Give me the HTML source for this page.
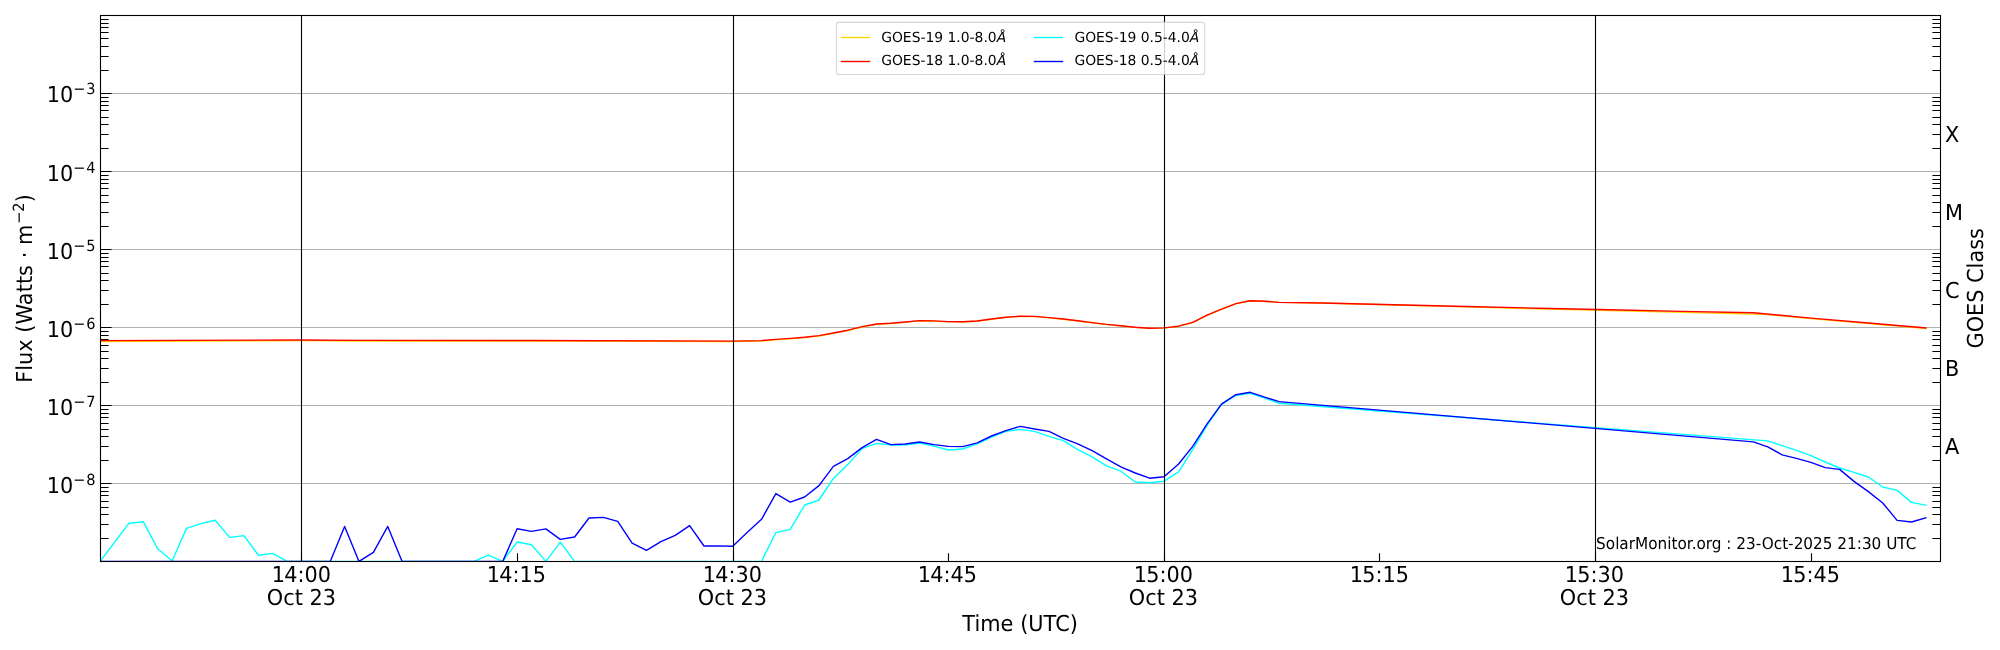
<!DOCTYPE html>
<html lang="en"><head><meta charset="utf-8"><title>GOES X-ray Flux</title>
<style>html,body{margin:0;padding:0;background:#fff}body{width:2000px;height:650px;overflow:hidden}svg{display:block;will-change:transform}text{font-family:"DejaVu Sans","Liberation Sans",sans-serif;fill:#000}</style></head><body>
<svg width="2000" height="650" viewBox="0 0 2000 650" text-rendering="geometricPrecision">
<rect width="2000" height="650" fill="#fff"/>
<defs><clipPath id="ax"><rect x="100.06" y="14.97" width="1840.00" height="546.42"/></clipPath></defs>
<g stroke="#b0b0b0" stroke-width="1.1" fill="none"><path d="M100.5 483.5H1940.5"/><path d="M100.5 405.5H1940.5"/><path d="M100.5 327.5H1940.5"/><path d="M100.5 249.5H1940.5"/><path d="M100.5 171.5H1940.5"/><path d="M100.5 93.5H1940.5"/></g>
<g clip-path="url(#ax)" fill="none" stroke-width="1.39" stroke-linejoin="round" stroke-linecap="square">
<polyline stroke="#ffd700" points="100.25,341.50 272.75,340.69 301.50,340.59 359.00,340.97 531.50,341.02 732.75,341.55 761.50,341.04 775.88,339.83 790.25,338.82 804.62,337.62 819.00,336.01 833.38,333.41 847.75,330.60 862.12,326.98 876.50,324.36 890.88,323.54 905.25,322.32 919.62,320.91 934.00,321.19 948.38,321.87 962.75,322.05 977.12,321.24 991.50,319.24 1005.88,317.43 1020.25,316.43 1034.62,316.62 1049.00,317.82 1063.38,319.21 1077.75,321.01 1092.12,322.80 1106.50,324.59 1120.88,325.99 1135.25,327.38 1149.62,328.38 1164.00,328.07 1178.38,326.37 1192.75,322.56 1207.12,315.36 1221.50,309.35 1235.88,303.68 1250.25,300.80 1264.62,301.20 1279.00,302.40 1322.12,302.95 1394.00,304.97 1465.88,306.93 1537.75,308.85 1609.62,310.67 1681.50,312.43 1753.38,314.05 1767.75,314.59 1810.88,318.60 1868.38,323.50 1925.88,328.50"/>
<polyline stroke="#ff0000" points="100.25,340.60 301.50,340.00 359.00,340.40 531.50,340.50 732.75,341.10 761.50,340.60 775.88,339.40 790.25,338.40 804.62,337.20 819.00,335.60 833.38,333.00 847.75,330.20 862.12,326.60 876.50,324.00 890.88,323.20 905.25,322.00 919.62,320.60 934.00,320.90 948.38,321.60 962.75,321.80 977.12,321.00 991.50,319.00 1005.88,317.20 1020.25,316.20 1034.62,316.40 1049.00,317.60 1063.38,319.00 1077.75,320.80 1092.12,322.60 1106.50,324.40 1120.88,325.80 1135.25,327.20 1149.62,328.20 1164.00,327.90 1178.38,326.20 1192.75,322.40 1207.12,315.20 1221.50,309.20 1235.88,303.60 1250.25,300.80 1264.62,301.20 1279.00,302.40 1322.12,302.95 1394.00,304.75 1465.88,306.50 1537.75,308.20 1609.62,309.80 1681.50,311.35 1753.38,312.75 1810.88,318.10 1868.38,323.00 1925.88,328.00"/>
<polyline stroke="#00ffff" points="100.25,561.39 129.00,523.20 143.38,521.80 157.75,548.80 172.12,561.00 186.50,528.40 200.88,523.60 215.25,520.20 229.62,537.40 244.00,535.60 258.38,555.20 272.75,553.40 287.12,561.39 474.00,561.39 488.38,555.20 502.75,561.39 517.12,542.00 531.50,544.80 545.88,561.39 560.25,542.20 574.62,561.39 761.50,561.39 775.88,532.60 790.25,529.40 804.62,505.00 819.00,500.00 833.38,478.40 847.75,464.60 862.12,448.60 876.50,443.40 890.88,445.00 905.25,445.00 919.62,443.00 934.00,446.10 948.38,450.00 962.75,449.00 977.12,443.80 991.50,437.20 1005.88,431.40 1020.25,429.40 1034.62,431.40 1049.00,436.40 1063.38,440.60 1077.75,449.60 1092.12,456.80 1106.50,465.80 1120.88,471.20 1135.25,482.00 1149.62,482.80 1164.00,481.20 1178.38,472.20 1192.75,449.60 1207.12,425.40 1221.50,404.40 1235.88,395.50 1250.25,393.40 1264.62,398.20 1279.00,403.30 1767.75,440.90 1782.12,445.60 1796.50,450.40 1810.88,455.60 1825.25,462.00 1839.62,468.00 1854.00,472.40 1868.38,477.00 1882.75,487.00 1897.12,490.40 1911.50,502.40 1925.88,505.20"/>
<polyline stroke="#0000ff" points="100.25,561.39 330.25,561.39 344.62,526.40 359.00,561.39 373.38,552.40 387.75,526.40 402.12,561.39 502.75,561.39 517.12,528.80 531.50,531.40 545.88,528.90 560.25,539.40 574.62,537.00 589.00,518.00 603.38,517.40 617.75,521.40 632.12,543.20 646.50,550.40 660.88,541.60 675.25,535.40 689.62,525.60 704.00,546.00 718.38,545.90 732.75,546.20 747.12,532.40 761.50,519.30 775.88,493.60 790.25,502.20 804.62,497.00 819.00,485.60 833.38,466.40 847.75,458.60 862.12,447.60 876.50,439.40 890.88,444.60 905.25,444.00 919.62,442.00 934.00,444.60 948.38,446.40 962.75,446.60 977.12,442.80 991.50,436.00 1005.88,430.60 1020.25,426.40 1034.62,429.00 1049.00,431.40 1063.38,438.40 1077.75,443.80 1092.12,450.60 1106.50,458.80 1120.88,466.80 1135.25,473.00 1149.62,478.20 1164.00,476.80 1178.38,464.20 1192.75,446.40 1207.12,423.80 1221.50,404.10 1235.88,394.70 1250.25,392.30 1264.62,397.10 1279.00,401.60 1753.38,441.90 1767.75,446.90 1782.12,454.80 1796.50,458.40 1810.88,462.40 1825.25,467.60 1839.62,469.40 1854.00,481.40 1868.38,491.60 1882.75,503.00 1897.12,520.40 1911.50,522.00 1925.88,517.80"/>
</g>
<g stroke="#000" stroke-width="1.1" fill="none"><path d="M301.5 15.5V561.5"/><path d="M733.5 15.5V561.5"/><path d="M1164.5 15.5V561.5"/><path d="M1595.5 15.5V561.5"/></g>
<path stroke="#000" stroke-width="1.1" fill="none" d="M301.5 561.5v-8.3M517.5 561.5v-8.3M733.5 561.5v-8.3M948.5 561.5v-8.3M1164.5 561.5v-8.3M1379.5 561.5v-8.3M1595.5 561.5v-8.3M1811.5 561.5v-8.3M100.5 483.5h11.1M100.5 405.5h11.1M100.5 327.5h11.1M100.5 249.5h11.1M100.5 171.5h11.1M100.5 93.5h11.1M100.5 538.5h8.1M1940.5 538.5h-8.1M100.5 524.5h8.1M1940.5 524.5h-8.1M100.5 514.5h8.1M1940.5 514.5h-8.1M100.5 507.5h8.1M1940.5 507.5h-8.1M100.5 501.5h8.1M1940.5 501.5h-8.1M100.5 495.5h8.1M1940.5 495.5h-8.1M100.5 491.5h8.1M1940.5 491.5h-8.1M100.5 487.5h8.1M1940.5 487.5h-8.1M100.5 460.5h8.1M1940.5 460.5h-8.1M100.5 446.5h8.1M1940.5 446.5h-8.1M100.5 436.5h8.1M1940.5 436.5h-8.1M100.5 429.5h8.1M1940.5 429.5h-8.1M100.5 423.5h8.1M1940.5 423.5h-8.1M100.5 417.5h8.1M1940.5 417.5h-8.1M100.5 413.5h8.1M1940.5 413.5h-8.1M100.5 409.5h8.1M1940.5 409.5h-8.1M100.5 382.5h8.1M1940.5 382.5h-8.1M100.5 368.5h8.1M1940.5 368.5h-8.1M100.5 358.5h8.1M1940.5 358.5h-8.1M100.5 351.5h8.1M1940.5 351.5h-8.1M100.5 345.5h8.1M1940.5 345.5h-8.1M100.5 339.5h8.1M1940.5 339.5h-8.1M100.5 335.5h8.1M1940.5 335.5h-8.1M100.5 331.5h8.1M1940.5 331.5h-8.1M100.5 304.5h8.1M1940.5 304.5h-8.1M100.5 290.5h8.1M1940.5 290.5h-8.1M100.5 280.5h8.1M1940.5 280.5h-8.1M100.5 273.5h8.1M1940.5 273.5h-8.1M100.5 266.5h8.1M1940.5 266.5h-8.1M100.5 261.5h8.1M1940.5 261.5h-8.1M100.5 257.5h8.1M1940.5 257.5h-8.1M100.5 253.5h8.1M1940.5 253.5h-8.1M100.5 226.5h8.1M1940.5 226.5h-8.1M100.5 212.5h8.1M1940.5 212.5h-8.1M100.5 202.5h8.1M1940.5 202.5h-8.1M100.5 195.5h8.1M1940.5 195.5h-8.1M100.5 188.5h8.1M1940.5 188.5h-8.1M100.5 183.5h8.1M1940.5 183.5h-8.1M100.5 179.5h8.1M1940.5 179.5h-8.1M100.5 175.5h8.1M1940.5 175.5h-8.1M100.5 148.5h8.1M1940.5 148.5h-8.1M100.5 134.5h8.1M1940.5 134.5h-8.1M100.5 124.5h8.1M1940.5 124.5h-8.1M100.5 117.5h8.1M1940.5 117.5h-8.1M100.5 110.5h8.1M1940.5 110.5h-8.1M100.5 105.5h8.1M1940.5 105.5h-8.1M100.5 101.5h8.1M1940.5 101.5h-8.1M100.5 97.5h8.1M1940.5 97.5h-8.1M100.5 70.5h8.1M1940.5 70.5h-8.1M100.5 56.5h8.1M1940.5 56.5h-8.1M100.5 46.5h8.1M1940.5 46.5h-8.1M100.5 38.5h8.1M1940.5 38.5h-8.1M100.5 32.5h8.1M1940.5 32.5h-8.1M100.5 27.5h8.1M1940.5 27.5h-8.1M100.5 23.5h8.1M1940.5 23.5h-8.1M100.5 19.5h8.1M1940.5 19.5h-8.1"/>
<rect x="100.5" y="15.5" width="1840.0" height="546.0" fill="none" stroke="#000" stroke-width="1.1"/>
<text transform="translate(46.75,493.10) scale(1,1.055)" font-size="20.83">10<tspan dx="0.00" dy="-7.93" font-size="14.58">−<tspan dx="0.75">8</tspan></tspan></text>
<text transform="translate(46.75,415.10) scale(1,1.055)" font-size="20.83">10<tspan dx="0.00" dy="-7.93" font-size="14.58">−<tspan dx="0.75">7</tspan></tspan></text>
<text transform="translate(46.75,337.10) scale(1,1.055)" font-size="20.83">10<tspan dx="0.00" dy="-7.93" font-size="14.58">−<tspan dx="0.75">6</tspan></tspan></text>
<text transform="translate(46.75,259.10) scale(1,1.055)" font-size="20.83">10<tspan dx="0.00" dy="-7.93" font-size="14.58">−<tspan dx="0.75">5</tspan></tspan></text>
<text transform="translate(46.75,181.10) scale(1,1.055)" font-size="20.83">10<tspan dx="0.00" dy="-7.93" font-size="14.58">−<tspan dx="0.75">4</tspan></tspan></text>
<text transform="translate(46.75,102.00) scale(1,1.055)" font-size="20.83">10<tspan dx="0.00" dy="-7.93" font-size="14.58">−<tspan dx="0.75">3</tspan></tspan></text>
<text transform="translate(271.00,582.00) scale(1,1.055)" font-size="20.83"><tspan dx="0.8">1</tspan><tspan dx="-0.8">4:00</tspan></text>
<text transform="translate(266.80,605.00) scale(1,1.055)" font-size="20.83">Oct 23</text>
<text transform="translate(486.00,582.00) scale(1,1.055)" font-size="20.83"><tspan dx="0.8">1</tspan><tspan dx="-0.8">4:15</tspan></text>
<text transform="translate(702.00,582.00) scale(1,1.055)" font-size="20.83"><tspan dx="0.8">1</tspan><tspan dx="-0.8">4:30</tspan></text>
<text transform="translate(697.80,605.00) scale(1,1.055)" font-size="20.83">Oct 23</text>
<text transform="translate(917.00,582.00) scale(1,1.055)" font-size="20.83"><tspan dx="0.8">1</tspan><tspan dx="-0.8">4:45</tspan></text>
<text transform="translate(1133.00,582.00) scale(1,1.055)" font-size="20.83"><tspan dx="0.8">1</tspan><tspan dx="-0.8">5:00</tspan></text>
<text transform="translate(1128.80,605.00) scale(1,1.055)" font-size="20.83">Oct 23</text>
<text transform="translate(1349.00,582.00) scale(1,1.055)" font-size="20.83"><tspan dx="0.8">1</tspan><tspan dx="-0.8">5:15</tspan></text>
<text transform="translate(1564.00,582.00) scale(1,1.055)" font-size="20.83"><tspan dx="0.8">1</tspan><tspan dx="-0.8">5:30</tspan></text>
<text transform="translate(1559.80,605.00) scale(1,1.055)" font-size="20.83">Oct 23</text>
<text transform="translate(1780.00,582.00) scale(1,1.055)" font-size="20.83"><tspan dx="0.8">1</tspan><tspan dx="-0.8">5:45</tspan></text>
<text transform="translate(962.30,631.00) scale(1,1.055)" font-size="20.83"><tspan letter-spacing="0.05">Time (UTC)</tspan></text>
<text transform="translate(32.30,382.80) rotate(-90) scale(1,1.055)" font-size="20.83"><tspan letter-spacing="0.05">Flux (Watts · m</tspan><tspan dx="0.8" dy="-7.93" font-size="14.58">−2</tspan><tspan dx="0.2" dy="7.93">)</tspan></text>
<text transform="translate(1945.00,454.09) scale(1,1.055)" font-size="20.83">A</text>
<text transform="translate(1945.00,376.03) scale(1,1.055)" font-size="20.83">B</text>
<text transform="translate(1945.00,297.97) scale(1,1.055)" font-size="20.83">C</text>
<text transform="translate(1945.00,219.91) scale(1,1.055)" font-size="20.83">M</text>
<text transform="translate(1945.00,141.85) scale(1,1.055)" font-size="20.83">X</text>
<text transform="translate(1983.30,288.30) rotate(-90) scale(1,1.055)" font-size="20.83" text-anchor="middle">GOES Class</text>
<text transform="translate(1596.10,548.70) scale(1,1.070)" font-size="15.28">SolarMonitor.org : 23-Oct-2025 21:30 UTC</text>
<rect x="836.3" y="22.4" width="368.4" height="52.1" rx="2.8" ry="2.8" fill="#fff" fill-opacity="0.8" stroke="#ccc" stroke-opacity="0.8" stroke-width="1.1"/>
<g stroke-width="1.39" fill="none" stroke-linecap="square"><path stroke="#ffd700" d="M841.5 37.5h28"/><path stroke="#ff0000" d="M841.5 61.5h28"/><path stroke="#00ffff" d="M1034.5 37.5h28"/><path stroke="#0000ff" d="M1034.5 61.5h28"/></g>
<text transform="translate(881.20,41.90)" font-size="13.89">GOES-19 1.0-8.0<tspan font-style="italic">Å</tspan></text>
<text transform="translate(881.20,65.30)" font-size="13.89">GOES-18 1.0-8.0<tspan font-style="italic">Å</tspan></text>
<text transform="translate(1074.40,41.90)" font-size="13.89">GOES-19 0.5-4.0<tspan font-style="italic">Å</tspan></text>
<text transform="translate(1074.40,65.30)" font-size="13.89">GOES-18 0.5-4.0<tspan font-style="italic">Å</tspan></text>
</svg></body></html>
